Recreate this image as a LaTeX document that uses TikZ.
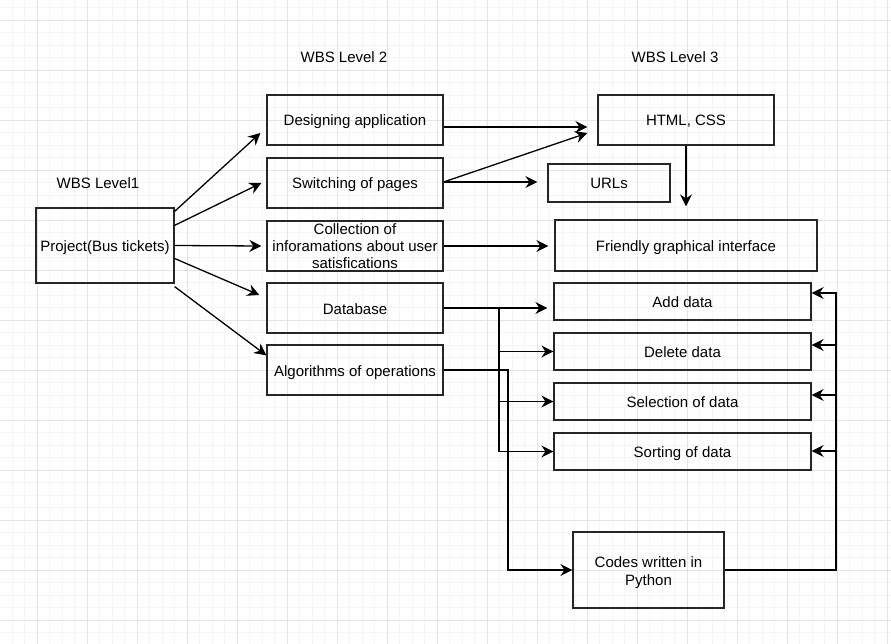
\documentclass[tikz,border=0pt]{standalone}
\usepackage{fontspec}
\setmainfont{Liberation Sans}
\usetikzlibrary{arrows.meta,calc}
\begin{document}
\begin{tikzpicture}[x=1pt,y=-1pt,
  mbox/.style={draw=black!85,line width=1.25pt,rectangle,inner sep=0pt,align=center,
     font=\fontsize{15}{17}\selectfont},
  box/.style={mbox,text height=14pt,text depth=2pt},
  lbl/.style={font=\fontsize{15}{17.5}\selectfont,inner sep=0pt},
  conn/.style={line width=1.3pt,-{Stealth[length=12pt,width=12pt,inset=4pt]}},
  plain/.style={line width=1.3pt}]
\useasboundingbox (0,0) rectangle (891,644);
\fill[white] (0,0) rectangle (891,644);
% grid
\foreach \i in {0,...,72} \draw[line width=0.8pt,black!4] ({-0.5+12.5*\i},0) -- ++(0,644);
\foreach \i in {0,...,52} \draw[line width=0.8pt,black!4] (0,{7.5+12.5*\i}) -- ++(891,0);
\foreach \i in {0,...,17} \draw[line width=0.9pt,black!10] ({37+50*\i},0) -- ++(0,644);
\foreach \i in {0,...,12} \draw[line width=0.9pt,black!10] (0,{20+50*\i}) -- ++(891,0);

% labels
\node[lbl] (l1) at (98,183) {WBS Level1};
\node[lbl] (l2) at (344,57) {WBS Level 2};
\node[lbl] (l3) at (675,57) {WBS Level 3};

% nodes
\node[box,minimum width=138pt,minimum height=75pt] (proj) at (105,245.5) {Project(Bus tickets)};
\node[box,minimum width=176pt,minimum height=50pt] (des) at (355,120) {Designing application};
\node[box,minimum width=176pt,minimum height=50pt] (sw) at (355,183) {Switching of pages};
\node[mbox,minimum width=176pt,minimum height=50pt,text height=48pt,text depth=2pt] (col) at (355,246) {Collection of\\inforamations about user\\satisfications};
\node[box,minimum width=176pt,minimum height=50pt] (db) at (355,308) {Database};
\node[box,minimum width=176pt,minimum height=50pt] (alg) at (355,370) {Algorithms of operations};
\node[box,minimum width=176pt,minimum height=50pt] (html) at (686,120) {HTML, CSS};
\node[box,minimum width=122pt,minimum height=38pt] (urls) at (609,183) {URLs};
\node[box,minimum width=262pt,minimum height=51pt] (fri) at (686,245.5) {Friendly graphical interface};
\node[box,minimum width=257pt,minimum height=37pt] (add) at (682.5,301.5) {Add data};
\node[box,minimum width=257pt,minimum height=37pt] (del) at (682.5,351.5) {Delete data};
\node[box,minimum width=257pt,minimum height=37pt] (sel) at (682.5,401.5) {Selection of data};
\node[box,minimum width=257pt,minimum height=37pt] (sort) at (682.5,451.5) {Sorting of data};
\node[mbox,minimum width=151pt,minimum height=76pt,font=\fontsize{15}{18}\selectfont,text height=32pt,text depth=2pt] (codes) at (648.5,570) {Codes written in\\Python};

% level 1 -> level 2
\draw[conn] ($(proj.north east)+(0,4)$) -- ($(des.west)+(-6,13)$);
\draw[conn] ($(proj.north east)+(0,18)$) -- ($(sw.west)+(-5,0)$);
\draw[conn] ($(proj.east)+(0,0)$) -- ($(col.west)+(-5,0)$);
\draw[conn] ($(proj.east)+(0,13)$) -- ($(db.west)+(-7,-13)$);
\draw[conn] ($(proj.south east)+(0,3)$) -- ($(alg.north west)+(0,11)$);

% level 2 -> level 3
\draw[conn] ($(des.east)+(0,7)$) -- ($(html.west)+(-10,7)$);
\draw[conn] ($(sw.east)+(0,-1)$) -- ($(html.west)+(-10,13)$);
\draw[conn] ($(sw.east)+(0,-1)$) -- ($(urls.west)+(-10,-1)$);
\draw[conn] (html.south) -- ($(fri.north)+(0,-13)$);
\draw[conn] (col.east) -- ($(fri.west)+(-6,0.5)$);

% database branches
\coordinate (dbx) at (499,308);
\draw[conn] (db.east) -- ($(add.west)+(-6,6.5)$);
\draw[conn] (db.east) -- (dbx) |- (del.west);
\draw[conn] (db.east) -- (dbx) |- (sel.west);
\draw[conn] (db.east) -- (dbx) |- (sort.west);

% algorithms -> codes
\coordinate (algx) at (508,370);
\draw[conn] (alg.east) -- (algx) |- (codes.west);

% codes -> data boxes
\coordinate (cx) at (836,570);
\draw[conn] (codes.east) -- (cx) |- ($(add.east)+(0,-8.5)$);
\draw[conn] (cx) |- ($(del.east)+(0,-6.5)$);
\draw[conn] (cx) |- ($(sel.east)+(0,-6.5)$);
\draw[conn] (cx) |- ($(sort.east)+(0,-0.5)$);
\end{tikzpicture}
\end{document}
